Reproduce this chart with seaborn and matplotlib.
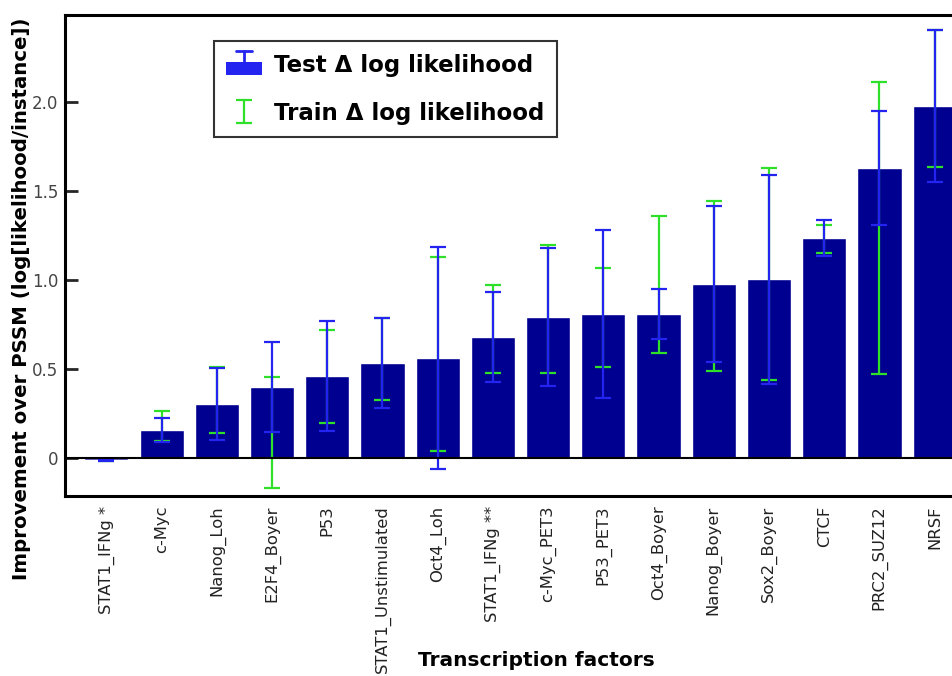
import numpy as np
import pandas as pd
import matplotlib
matplotlib.use("Agg")
import matplotlib.pyplot as plt
import seaborn as sns
from matplotlib.ticker import FuncFormatter
from matplotlib.patches import Rectangle
from matplotlib.lines import Line2D
from matplotlib.legend_handler import HandlerBase

# DATA
factors = ["STAT1_IFNg *", "c-Myc", "Nanog_Loh", "E2F4_Boyer", "P53",
           "STAT1_Unstimulated", "Oct4_Loh", "STAT1_IFNg **", "c-Myc_PET3",
           "P53_PET3", "Oct4_Boyer", "Nanog_Boyer", "Sox2_Boyer", "CTCF",
           "PRC2_SUZ12", "NRSF"]
test_mean = [-0.01, 0.157, 0.303, 0.40, 0.461, 0.535, 0.562, 0.68, 0.792,
             0.809, 0.809, 0.979, 1.004, 1.236, 1.629, 1.978]
test_err = [0.005, 0.068, 0.204, 0.252, 0.309, 0.253, 0.623, 0.253, 0.388,
            0.472, 0.14, 0.437, 0.586, 0.101, 0.32, 0.427]
train_mean = [-0.01, 0.18, 0.326, 0.143, 0.459, 0.555, 0.585, 0.724, 0.84,
              0.791, 0.976, 0.966, 1.035, 1.23, 1.292, 2.02]
train_err = [0.005, 0.084, 0.186, 0.312, 0.26, 0.23, 0.544, 0.248, 0.36,
             0.278, 0.384, 0.478, 0.594, 0.079, 0.82, 0.385]

df = pd.DataFrame({"factor": factors, "test": test_mean})

sns.set_style("white")
plt.rcParams["font.family"] = ["DejaVu Sans"]
plt.rcParams["text.color"] = "black"
plt.rcParams["axes.labelcolor"] = "black"

bar_color = "#000090"
blue = "#2424f0"
green = "#2ee02a"


class BarCapHandler(HandlerBase):
    # blue box with a single error cap sticking out on top
    def create_artists(self, legend, orig_handle, xdescent, ydescent,
                       width, height, fontsize, trans):
        x0, y0 = -xdescent, -ydescent
        rect = Rectangle((x0, y0 - 0.2 * height), width, 0.8 * height,
                         facecolor=blue, edgecolor="none", transform=trans)
        cx = x0 + width / 2
        top = y0 + 1.3 * height
        stem = Line2D([cx, cx], [y0 + 0.5 * height, top], color=blue, lw=2,
                      transform=trans)
        cap = Line2D([cx - 0.22 * width, cx + 0.22 * width], [top, top],
                     color=blue, lw=2, transform=trans)
        return [rect, stem, cap]


fig = plt.figure(figsize=(9.52, 6.76), dpi=100)
# axes right edge runs past the figure edge, like the cropped original
ax = fig.add_axes([65 / 952, 1 - 496 / 676, 900 / 952, 481 / 676])

sns.barplot(data=df, x="factor", y="test", color=bar_color, width=0.8,
            saturation=1, errorbar=None, ax=ax, zorder=2)

x = np.arange(len(factors))
green_eb = ax.errorbar(x, train_mean, yerr=train_err, fmt="none", ecolor=green,
                       elinewidth=1.6, capsize=6, capthick=1.6, zorder=3)
blue_eb = ax.errorbar(x, test_mean, yerr=test_err, fmt="none", ecolor=blue,
                      elinewidth=1.6, capsize=6, capthick=1.6, zorder=4)

ax.axhline(0, color="black", lw=1.5, zorder=5)

ax.set_xlim(-0.75, 15.55)
ax.set_ylim(-0.213, 2.49)
ax.set_yticks([0, 0.5, 1.0, 1.5, 2.0])
ax.yaxis.set_major_formatter(FuncFormatter(lambda v, p: "0" if v == 0 else f"{v:.1f}"))
ax.tick_params(axis="y", direction="in", length=9, width=2, labelsize=12,
               labelcolor="#444444", left=True, pad=5)
ax.tick_params(axis="x", length=0, labelsize=11.8, labelrotation=90, pad=7)
for lbl in ax.get_xticklabels():
    lbl.set_color("#222222")

for s in ax.spines.values():
    s.set_color("black")
    s.set_linewidth(2.2)

ax.set_xlabel("Transcription factors", fontsize=14.5, fontweight="bold")
ax.xaxis.set_label_coords(0.524, -0.322)
ax.set_ylabel("Improvement over PSSM (log[likelihood/instance])", fontsize=14.2,
              fontweight="bold")
ax.yaxis.set_label_coords(-0.038, 0.41)

test_handle = Rectangle((0, 0), 1, 1)
leg = ax.legend([test_handle, green_eb],
                ["Test \u0394 log likelihood", "Train \u0394 log likelihood"],
                handler_map={Rectangle: BarCapHandler()},
                loc="upper left", bbox_to_anchor=(0.165, 0.946),
                prop={"weight": "bold", "size": 16.5}, frameon=True,
                fancybox=False, edgecolor="black", borderpad=0.55,
                handlelength=1.55, handletextpad=0.55, labelspacing=1.1,
                borderaxespad=0)
leg.get_frame().set_linewidth(1.5)
for t in leg.get_texts():
    t.set_color("black")

fig.savefig("out.png", dpi=100)
